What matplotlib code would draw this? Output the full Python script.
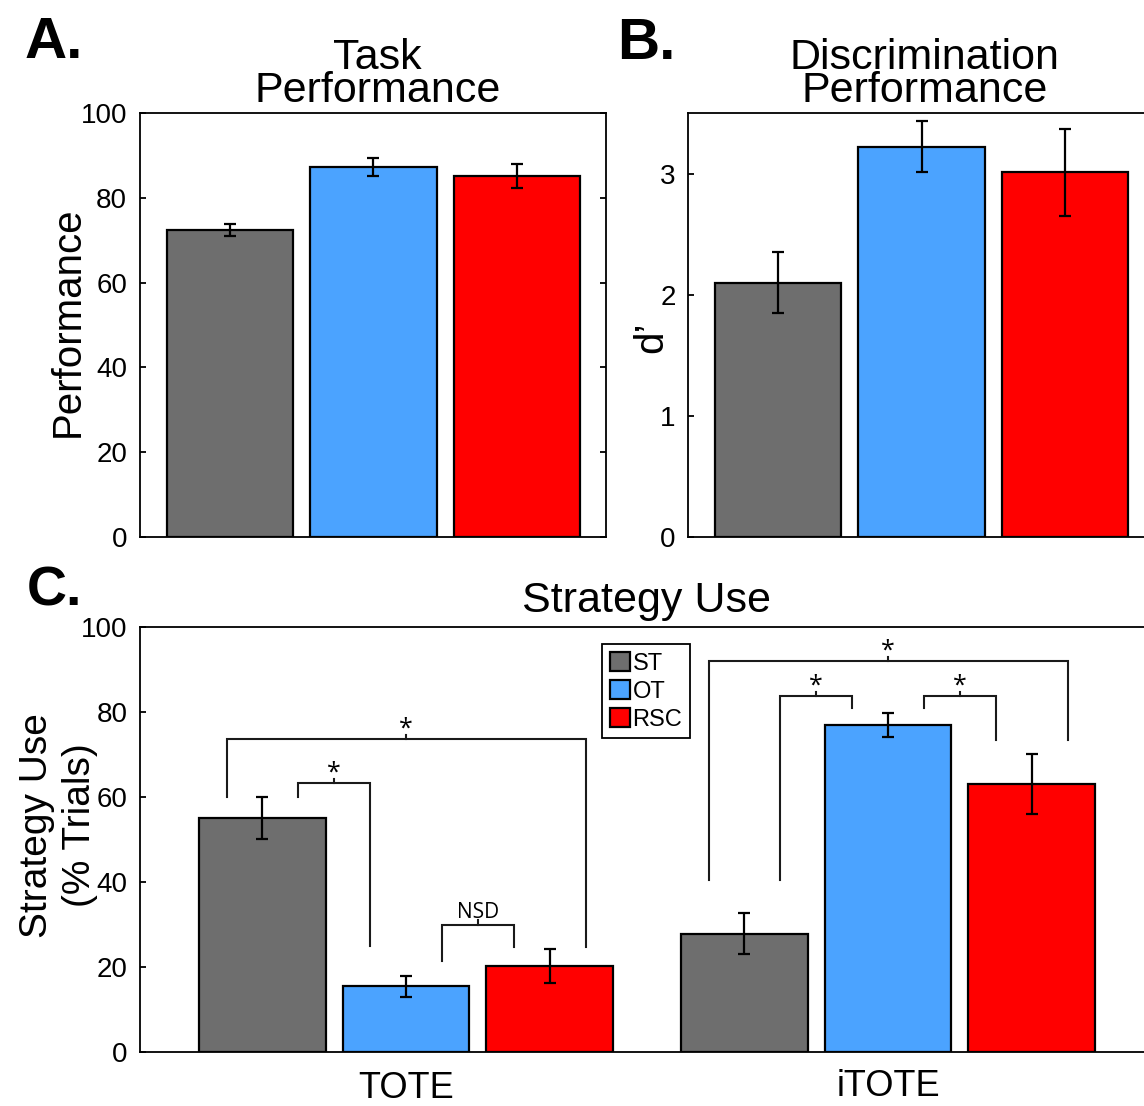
import matplotlib
matplotlib.use("Agg")
import matplotlib.pyplot as plt
from matplotlib.transforms import blended_transform_factory
import numpy as np

plt.rcParams['font.family'] = ['Liberation Sans', 'DejaVu Sans']

# ---- data ----
groups = ['ST', 'OT', 'RSC']
colors = ['#6E6E6E', '#4BA3FF', '#FF0000']

task_perf = [72.4, 87.3, 85.1]
task_err = [1.4, 2.2, 2.9]

dprime = [2.10, 3.22, 3.01]
dprime_err = [0.25, 0.21, 0.36]

strategies = ['TOTE', 'iTOTE']
tote_use = [55.1, 15.5, 20.2]
tote_err = [5.0, 2.5, 4.0]
itote_use = [27.8, 77.0, 63.1]
itote_err = [4.8, 2.8, 7.0]

# ---- layout helpers (pixel -> figure fraction) ----
W, H = 1144, 1106
fig = plt.figure(figsize=(W / 100, H / 100), dpi=100)


def fx(x):
    return x / W


def fy(y):
    return 1 - y / H


EDGE_LW = 1.6
ERR_KW = dict(fmt='none', ecolor='black', elinewidth=1.6, capsize=4, capthick=1.6)
TITLE_KW = dict(fontsize=31, ha='center', va='baseline', multialignment='center',
                linespacing=0.77)


def style_axes(ax, right_ticks=True):
    for s in ax.spines.values():
        s.set_linewidth(1.3)
    ax.tick_params(axis='y', direction='in', length=4, width=1.3,
                   labelsize=20, pad=9, right=right_ticks)
    ax.tick_params(axis='x', bottom=False, labelbottom=False)


# ---- A: task performance ----
axA = fig.add_axes([fx(139.5), fy(537), 466.5 / W, 424 / H])
xA = np.arange(1, len(groups) + 1)
axA.bar(xA, task_perf, width=0.88, color=colors, edgecolor='black', linewidth=EDGE_LW, zorder=2)
axA.errorbar(xA, task_perf, yerr=task_err, zorder=3, **ERR_KW)
axA.set_xlim(0.37, 3.62)
axA.set_ylim(0, 100)
axA.set_yticks(np.arange(0, 101, 20))
style_axes(axA)
axA.set_ylabel('Performance', fontsize=29)
axA.yaxis.set_label_coords(-0.113, 0.508)
fig.text(fx(377.5), fy(102), 'Task\nPerformance', **TITLE_KW)
fig.text(fx(25), fy(58), 'A.', fontsize=42, fontweight='bold', ha='left', va='baseline')

# ---- B: discrimination performance ----
axB = fig.add_axes([fx(688), fy(537), 467 / W, 424 / H])
axB.bar(xA, dprime, width=0.88, color=colors, edgecolor='black', linewidth=EDGE_LW, zorder=2)
axB.errorbar(xA, dprime, yerr=dprime_err, zorder=3, **ERR_KW)
axB.set_xlim(0.372, 3.626)
axB.set_ylim(0, 3.5)
axB.set_yticks([0, 1, 2, 3])
style_axes(axB)
axB.set_ylabel('d\u2019', fontsize=29)
axB.yaxis.set_label_coords(-0.038, 0.472)
fig.text(fx(924.5), fy(102), 'Discrimination\nPerformance', **TITLE_KW)
fig.text(fx(617), fy(59), 'B.', fontsize=42, fontweight='bold', ha='left', va='baseline')

# ---- C: strategy use ----
axC = fig.add_axes([fx(140), fy(1052), 1013.5 / W, 425 / H])
group_centers = np.array([1.0, 2.0])
off = 0.298
bar_w = 0.263
use = [tote_use, itote_use]
err = [tote_err, itote_err]
for i, name in enumerate(groups):
    xs = group_centers + (i - 1) * off
    vals = [use[g][i] for g in range(len(strategies))]
    errs = [err[g][i] for g in range(len(strategies))]
    axC.bar(xs, vals, width=bar_w, color=colors[i], edgecolor='black',
            linewidth=EDGE_LW, zorder=2, label=name)
    axC.errorbar(xs, vals, yerr=errs, zorder=3, **ERR_KW)
axC.set_xlim(0.448, 2.5507)
axC.set_ylim(0, 100)
axC.set_yticks(np.arange(0, 101, 20))
style_axes(axC, right_ticks=False)
axC.set_ylabel('Strategy Use\n(% Trials)', fontsize=28, linespacing=1.25)
axC.yaxis.set_label_coords(-0.041, 0.533)

lab_tr = blended_transform_factory(axC.transData, axC.transAxes)
axC.text(group_centers[0], -0.109, strategies[0], fontsize=26, ha='center',
         va='baseline', transform=lab_tr)
axC.text(group_centers[1], -0.1035, strategies[1], fontsize=26, ha='center',
         va='baseline', transform=lab_tr)

fig.text(fx(646), fy(612), 'Strategy Use', fontsize=31, ha='center', va='baseline')
fig.text(fx(27), fy(605), 'C.', fontsize=40, fontweight='bold', ha='left', va='baseline')

# significance brackets: (group, left, right, left foot, right foot, top, label)
brackets = [
    (0, -1.25, 1.25, 60.0, 24.8, 73.7, '*'),
    (0, -0.75, -0.25, 60.0, 25.0, 63.3, '*'),
    (0, 0.25, 0.75, 21.5, 24.8, 30.0, 'NSD'),
    (1, -1.25, 1.25, 40.4, 73.5, 92.0, '*'),
    (1, -0.75, -0.25, 40.4, 81.0, 83.8, '*'),
    (1, 0.25, 0.75, 81.0, 73.5, 83.8, '*'),
]
for g, a, b, ya, yb, top, lab in brackets:
    x1 = group_centers[g] + a * off
    x2 = group_centers[g] + b * off
    xm = (x1 + x2) / 2
    axC.plot([x1, x1, x2, x2], [ya, top, top, yb], color='#1a1a1a', lw=1.5,
             solid_joinstyle='miter', zorder=4)
    axC.plot([xm, xm], [top, top + 1.0], color='#1a1a1a', lw=1.5, zorder=4)
    if lab == '*':
        axC.text(xm, top + 0.8, lab, fontsize=18, family=['Open Sans', 'DejaVu Sans'],
                 ha='center', va='baseline', zorder=5)
    else:
        axC.text(xm, top + 1.5, lab, fontsize=15, family=['Open Sans', 'DejaVu Sans'],
                 ha='center', va='baseline', zorder=5)

leg = axC.legend(loc='upper left', bbox_to_anchor=(fx(602), fy(644)),
                 bbox_transform=fig.transFigure, borderaxespad=0, fontsize=17,
                 handlelength=0.85, handleheight=0.9, handletextpad=0.12,
                 labelspacing=0.22, borderpad=0.32, fancybox=False, framealpha=1,
                 edgecolor='black')
leg.get_frame().set_linewidth(1.3)

fig.savefig('out.png', dpi=100)
